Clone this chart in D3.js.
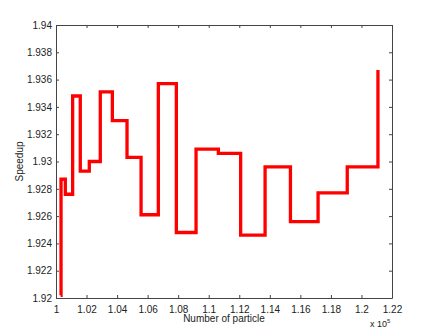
<!DOCTYPE html>
<html>
<head>
<meta charset="utf-8">
<script src="https://cdn.jsdelivr.net/npm/d3@7"></script>
<style>
  body { margin: 0; background: #fff; }
  svg text { font-family: "Liberation Sans", Arial, sans-serif; fill: #222; }
</style>
</head>
<body>
<div id="chart"></div>
<script>
// particle count (x 10^5) where the speedup changes, and the speedup level from there on
const particles = [1.0030, 1.0033, 1.0061, 1.0109, 1.0159, 1.0218, 1.0290, 1.0369, 1.0465, 1.0557,
                   1.0670, 1.0788, 1.0917, 1.1063, 1.1209, 1.1369, 1.1535, 1.1716, 1.1907, 1.2108];
const speedup   = [1.9202, 1.9287, 1.9276, 1.9348, 1.9293, 1.9300, 1.9351, 1.9330, 1.9303, 1.9261,
                   1.9357, 1.9248, 1.9309, 1.9306, 1.9246, 1.9296, 1.9256, 1.9277, 1.9296, 1.9367];
const xTicks = [1, 1.02, 1.04, 1.06, 1.08, 1.1, 1.12, 1.14, 1.16, 1.18, 1.2, 1.22];
const yTicks = [1.92, 1.922, 1.924, 1.926, 1.928, 1.93, 1.932, 1.934, 1.936, 1.938, 1.94];

const width = 432, height = 336;
const margin = {top: 25, right: 40, bottom: 38, left: 56};

const svg = d3.select("#chart").append("svg")
    .attr("width", width)
    .attr("height", height);

const x = d3.scaleLinear().domain([1, 1.22]).range([margin.left, width - margin.right]);
const y = d3.scaleLinear().domain([1.92, 1.94]).range([height - margin.bottom, margin.top]);

const fmt = d => String(+d.toFixed(3));
const axisCol = "#444";

// bottom + left axes with labels, ticks pointing inward
const gx = svg.append("g")
    .attr("transform", "translate(0," + y.range()[0] + ")")
    .call(d3.axisBottom(x).tickValues(xTicks).tickFormat(fmt).tickSizeInner(-3).tickSizeOuter(0).tickPadding(6));
const gy = svg.append("g")
    .attr("transform", "translate(" + x.range()[0] + ",0)")
    .call(d3.axisLeft(y).tickValues(yTicks).tickFormat(fmt).tickSizeInner(-3).tickSizeOuter(0).tickPadding(4));

// top + right axes, ticks only (box)
const gt = svg.append("g")
    .attr("transform", "translate(0," + y.range()[1] + ")")
    .call(d3.axisTop(x).tickValues(xTicks).tickFormat("").tickSizeInner(-3).tickSizeOuter(0));
const gr = svg.append("g")
    .attr("transform", "translate(" + x.range()[1] + ",0)")
    .call(d3.axisRight(y).tickValues(yTicks).tickFormat("").tickSizeInner(-3).tickSizeOuter(0));

[gx, gy, gt, gr].forEach(g => {
    g.selectAll("path, line").attr("stroke", axisCol);
    g.selectAll("text").attr("font-size", 10).style("fill", "#222");
});
gx.selectAll("text").attr("dy", "0.85em");

// the stairs line
const line = d3.line()
    .x((d, i) => x(particles[i]))
    .y(d => y(d))
    .curve(d3.curveStepAfter);

svg.append("path")
    .datum(speedup)
    .attr("d", line)
    .attr("fill", "none")
    .attr("stroke", "#ff0000")
    .attr("stroke-width", 3.3)
    .attr("stroke-linejoin", "miter");

// axis titles
svg.append("text")
    .attr("x", (x.range()[0] + x.range()[1]) / 2)
    .attr("y", 322)
    .attr("text-anchor", "middle")
    .attr("font-size", 10)
    .text("Number of particle");

svg.append("text")
    .attr("transform", "translate(23," + (y.range()[0] + y.range()[1]) / 2 + ") rotate(-90)")
    .attr("text-anchor", "middle")
    .attr("font-size", 10)
    .text("Speedup");

// exponent label
const ex = svg.append("text")
    .attr("x", 370)
    .attr("y", 327)
    .attr("font-size", 9);
ex.append("tspan").text("x 10");
ex.append("tspan").attr("dy", -4).attr("font-size", 6).text("5");
</script>
</body>
</html>
